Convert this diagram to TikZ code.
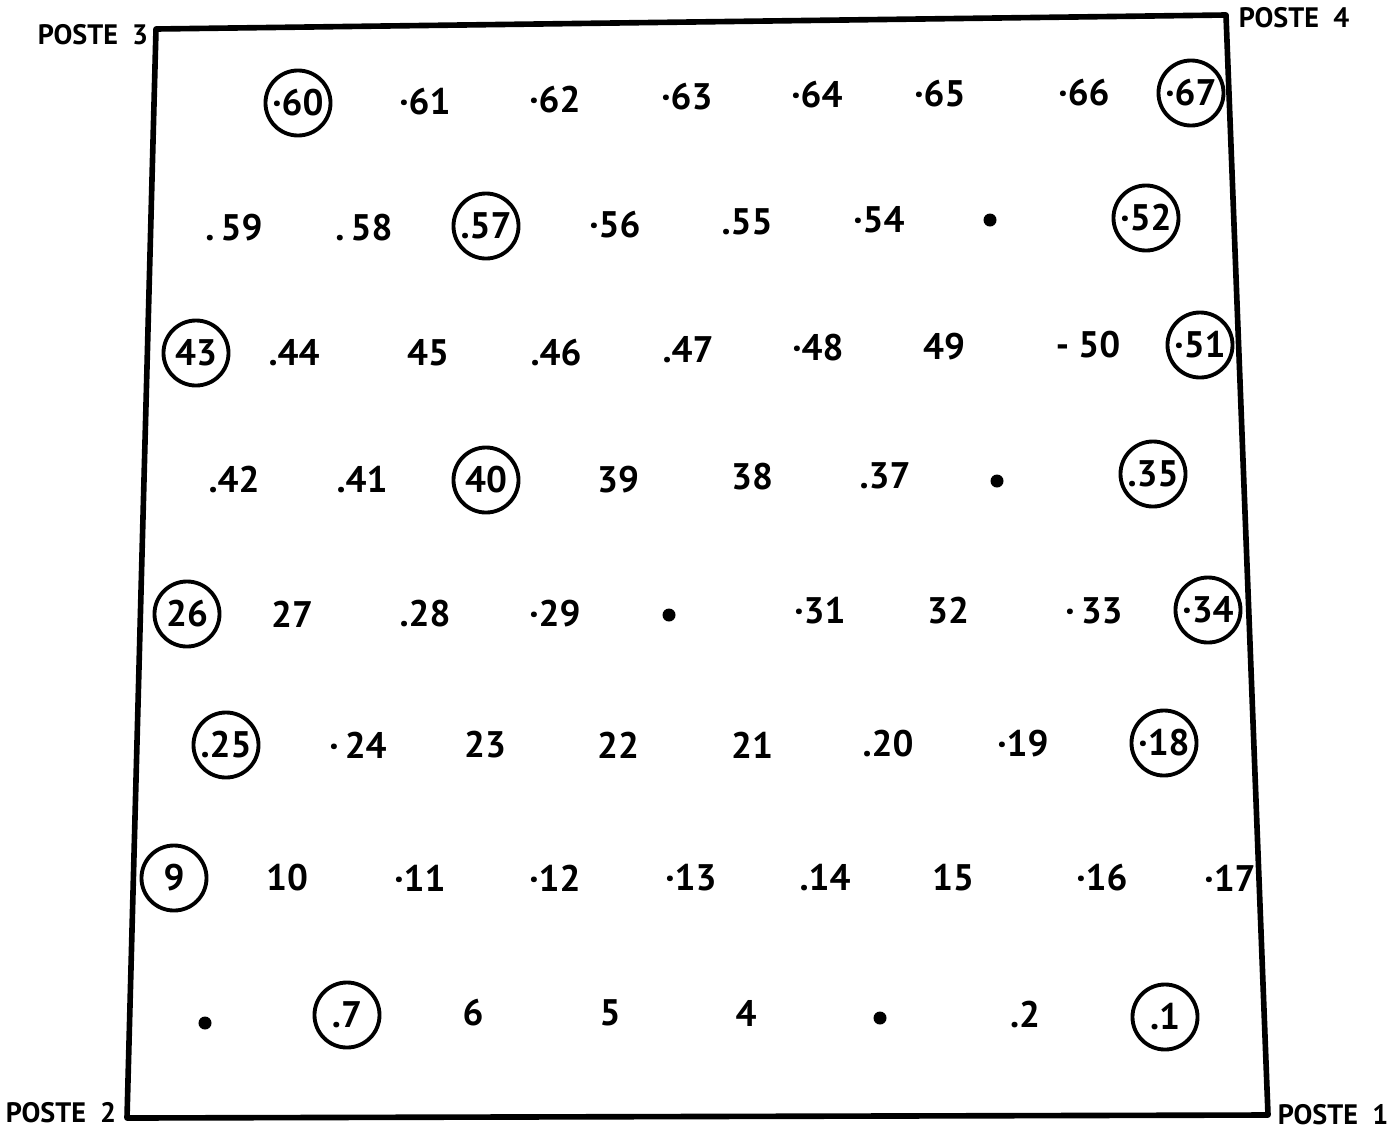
\documentclass[tikz,border=0pt]{standalone}
\usepackage{fontspec}
\setmainfont{PT Sans}
\usepackage{tikz}

\tikzset{
  tree/.style={font=\bfseries\fontsize{10.5}{11}\selectfont, inner sep=1pt},
  sample/.style={tree, draw, circle, line width=1.1pt, minimum size=0.65cm, inner sep=0pt},
  stump/.style={circle, fill, inner sep=0pt, minimum size=0.13cm},
  post/.style={font=\bfseries\fontsize{8}{9}\selectfont, inner sep=0pt}
}

\begin{document}
\begin{tikzpicture}[x=0.01cm, y=-0.01cm]
        \useasboundingbox (0,0) rectangle (1400,1136);

        % Corners of the plot
        \coordinate (c3) at (156,29);
        \coordinate (c4) at (1226,15);
        \coordinate (c1) at (1268,1115);
        \coordinate (c2) at (127,1118);
        \draw[line width=1.6pt, line join=round] (c3) -- (c4) -- (c1) -- (c2) -- cycle;

        \node[post] (poste3) at (93,35) {POSTE\ \ 3};
        \node[post] (poste4) at (1294,18) {POSTE\ \ 4};
        \node[post] (poste2) at (61,1113) {POSTE\ \ 2};
        \node[post] (poste1) at (1333,1115) {POSTE\ \ 1};

        % Row 60-67
        \node[sample] (t60) at (298,103) {·60};
        \node[tree] (t61) at (425,102) {·61};
        \node[tree] (t62) at (555,100) {·62};
        \node[tree] (t63) at (687,97) {·63};
        \node[tree] (t64) at (817,95) {·64};
        \node[tree] (t65) at (940,94) {·65};
        \node[tree] (t66) at (1084,93) {·66};
        \node[sample] (t67) at (1191,93) {·67};

        % Row 52-59
        \node[tree] (t59) at (234,228) {.\,59};
        \node[tree] (t58) at (364,228) {.\,58};
        \node[sample] (t57) at (486,226) {.57};
        \node[tree] (t56) at (615,225) {·56};
        \node[tree] (t55) at (747,222) {.55};
        \node[tree] (t54) at (879,220) {·54};
        \node[stump] (t53) at (990,220) {};
        \node[sample] (t52) at (1146,218) {·52};

        % Row 43-51
        \node[sample] (t43) at (196,353) {43};
        \node[tree] (t44) at (294,353) {.44};
        \node[tree] (t45) at (428,353) {45};
        \node[tree] (t46) at (556,353) {.46};
        \node[tree] (t47) at (688,350) {.47};
        \node[tree] (t48) at (818,348) {·48};
        \node[tree] (t49) at (944,347) {49};
        \node[tree] (t50) at (1088,345) {- 50};
        \node[sample] (t51) at (1200,345) {·51};

        % Row 35-42
        \node[tree] (t42) at (234,480) {.42};
        \node[tree] (t41) at (362,480) {.41};
        \node[sample] (t40) at (486,480) {40};
        \node[tree] (t39) at (618,480) {39};
        \node[tree] (t38) at (752,477) {38};
        \node[tree] (t37) at (885,476) {.37};
        \node[stump] (t36) at (997,481) {};
        \node[sample] (t35) at (1153,474) {.35};

        % Row 26-34
        \node[sample] (t26) at (187,614) {26};
        \node[tree] (t27) at (292,614) {27};
        \node[tree] (t28) at (425,614) {.28};
        \node[tree] (t29) at (555,614) {·29};
        \node[stump] (t30) at (669,615) {};
        \node[tree] (t31) at (820,611) {·31};
        \node[tree] (t32) at (948,611) {32};
        \node[tree] (t33) at (1094,611) {·\,33};
        \node[sample] (t34) at (1208,610) {·34};

        % Row 18-25
        \node[sample] (t25) at (226,745) {.25};
        \node[tree] (t24) at (358,745) {·\,24};
        \node[tree] (t23) at (485,745) {23};
        \node[tree] (t22) at (618,745) {22};
        \node[tree] (t21) at (752,745) {21};
        \node[tree] (t20) at (888,744) {.20};
        \node[tree] (t19) at (1023,744) {·19};
        \node[sample] (t18) at (1164,743) {·18};

        % Row 9-17
        \node[sample] (t9) at (174,878) {9};
        \node[tree] (t10) at (287,878) {10};
        \node[tree] (t11) at (420,878) {·11};
        \node[tree] (t12) at (555,878) {·12};
        \node[tree] (t13) at (691,878) {·13};
        \node[tree] (t14) at (825,878) {.14};
        \node[tree] (t15) at (953,878) {15};
        \node[tree] (t16) at (1102,878) {·16};
        \node[tree] (t17) at (1230,878) {·17};

        % Row 1-8
        \node[stump] (t8) at (205,1023) {};
        \node[sample] (t7) at (347,1015) {.7};
        \node[tree] (t6) at (473,1013) {6};
        \node[tree] (t5) at (610,1013) {5};
        \node[tree] (t4) at (746,1013) {4};
        \node[stump] (t3) at (880,1018) {};
        \node[tree] (t2) at (1025,1015) {.2};
        \node[sample] (t1) at (1165,1017) {.1};
    \end{tikzpicture}
\end{document}
